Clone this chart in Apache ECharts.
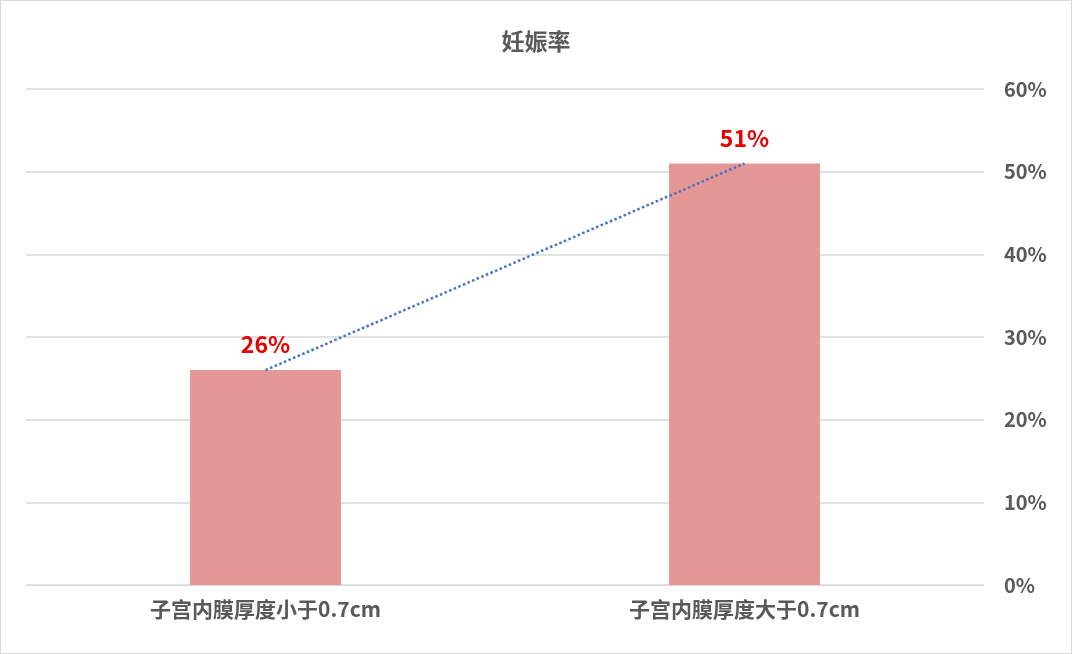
<!DOCTYPE html>
<html>
<head>
<meta charset="utf-8">
<script src="https://cdn.jsdelivr.net/npm/echarts@6/dist/echarts.min.js"></script>
<style>
html,body{margin:0;padding:0;background:#fff;}
#bar{width:1070px;height:652px;border:1px solid #d9d9d9;}
</style>
</head>
<body>
<div id="bar"></div>
<script>
var categories = ['子宫内膜厚度小于0.7cm', '子宫内膜厚度大于0.7cm'];
var rateValues = [26, 51];
var yTicks = [0, 10, 20, 30, 40, 50, 60];

var myChart = echarts.init(document.getElementById('bar'));
var font = '"Noto Sans CJK SC", sans-serif';
var option = {
	title: {
		text: '妊娠率',
		left: 'center',
		top: 24,
		textStyle: { fontFamily: font, fontSize: 23, fontWeight: 'bold', color: '#595959' }
	},
	grid: { left: 25, right: 87, top: 88, bottom: 68 },
	xAxis: {
		type: 'category',
		data: categories,
		axisTick: { show: false },
		axisLine: { lineStyle: { color: '#d9d9d9' } },
		axisLabel: { fontFamily: font, fontSize: 21, fontWeight: 'bold', color: '#595959', margin: 14 }
	},
	yAxis: {
		type: 'value',
		position: 'right',
		min: yTicks[0],
		max: yTicks[yTicks.length - 1],
		interval: 10,
		axisLine: { show: false },
		axisTick: { show: false },
		splitLine: { lineStyle: { color: '#d9d9d9', width: 1.5 } },
		axisLabel: { formatter: '{value}%', fontFamily: font, fontSize: 20, fontWeight: 'bold', color: '#595959', margin: 20 }
	},
	series: [{
		type: 'bar',
		data: rateValues,
		barWidth: '31.5%',
		itemStyle: { color: '#e49795' },
		label: {
			show: true, position: 'top', distance: 14, formatter: '{c}%',
			fontFamily: font, fontSize: 23, fontWeight: 'bold', color: '#e60000'
		}
	}, {
		type: 'line',
		data: rateValues,
		symbol: 'none',
		lineStyle: { type: 'dotted', color: '#4472c4', width: 2.5 },
		z: 5
	}]
};
myChart.setOption(option);
</script>
</body>
</html>
